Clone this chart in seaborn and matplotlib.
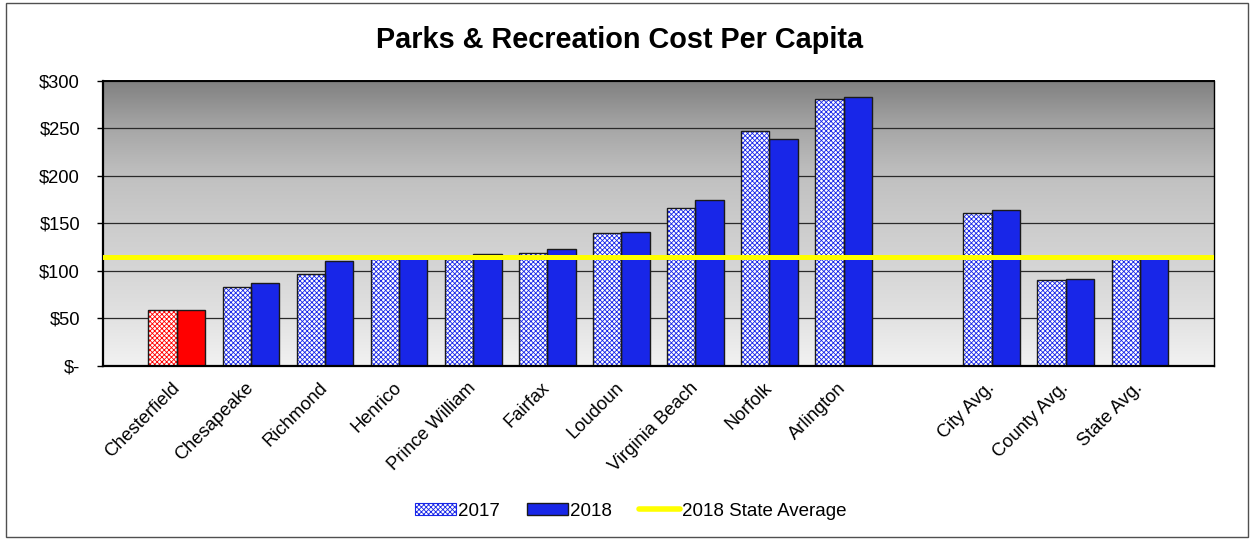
import numpy as np
import pandas as pd
import matplotlib
matplotlib.use("Agg")
import matplotlib.pyplot as plt
import seaborn as sns
from matplotlib.patches import Patch, Rectangle
from matplotlib.lines import Line2D

# ---- data -------------------------------------------------------------
jurisdictions = ["Chesterfield", "Chesapeake", "Richmond", "Henrico", "Prince William",
                 "Fairfax", "Loudoun", "Virginia Beach", "Norfolk", "Arlington",
                 "City Avg.", "County Avg.", "State Avg."]
state_average_2018 = 115
cost_2017 = [59, 83, 97, 114, 112, 119, 140, 166, 247, 281, 161, 90, 114]
cost_2018 = [59, 87, 110, 115, 118, 123, 141, 175, 239, 283, 164, 92, state_average_2018]
years = ["2017", "2018"]
highlight = "Chesterfield"
y_ticks = [0, 50, 100, 150, 200, 250, 300]
y_tick_labels = ["$-", "$50", "$100", "$150", "$200", "$250", "$300"]

# category order with an empty slot separating the averages
gap_label = ""
order = jurisdictions[:10] + [gap_label] + jurisdictions[10:]

df = pd.DataFrame({
    "Jurisdiction": jurisdictions * 2,
    "Year": [years[0]] * len(jurisdictions) + [years[1]] * len(jurisdictions),
    "Cost": cost_2017 + cost_2018,
})

# ---- style ------------------------------------------------------------
BLUE = "#1826E8"
RED = "#FF0000"
EDGE = "#1a1a1a"
CHECK = "xxxxxxx"

sns.set_theme(style="white")
plt.rcParams["font.family"] = ["Liberation Sans", "DejaVu Sans"]
plt.rcParams["hatch.linewidth"] = 0.6
plt.rcParams["text.color"] = "black"
plt.rcParams["xtick.color"] = "black"
plt.rcParams["ytick.color"] = "black"
plt.rcParams["axes.labelcolor"] = "black"

fig = plt.figure(figsize=(12.51, 5.40), dpi=100)
ax = fig.add_axes([0.0821, 0.3222, 0.8883, 0.5284])

# plot-area background: vertical grey gradient
grad_levels = np.array([0, 50, 100, 150, 200, 250, 300])
grad_gray = np.array([242, 226, 214, 204, 192, 166, 128]) / 255.0
yy = np.linspace(0, 300, 400)
g = np.interp(yy, grad_levels, grad_gray)
img = np.repeat(g[:, None], 3, axis=1)[:, None, :]
ax.imshow(img, extent=[-1, 14, 0, 300], origin="lower", aspect="auto",
          zorder=0, interpolation="bilinear")

sns.barplot(data=df, x="Jurisdiction", y="Cost", hue="Year", order=order,
            hue_order=years, palette={years[0]: BLUE, years[1]: BLUE},
            width=0.766, errorbar=None, saturation=1, legend=False, ax=ax,
            edgecolor=EDGE, linewidth=1.0, zorder=2)

# 2017 bars get a fine checked fill; the highlighted county is red
highlight_pos = order.index(highlight)
for level, container in enumerate(ax.containers):
    for bar in container:
        cx = bar.get_x() + bar.get_width() / 2
        color = RED if round(cx) == highlight_pos else BLUE
        if level == 0:
            bar.set_facecolor("white")
            bar.set_edgecolor(color)
            bar.set_hatch(CHECK)
            bar.set_linewidth(0)
            ax.add_patch(Rectangle(bar.get_xy(), bar.get_width(), bar.get_height(),
                                   fill=False, edgecolor=EDGE, linewidth=1.0,
                                   zorder=2.1))
        else:
            bar.set_facecolor(color)
            bar.set_edgecolor(EDGE)

ax.axhline(state_average_2018, color="#FFFF00", linewidth=3.6, zorder=5)

ax.set_xlim(-1, 14)
ax.set_ylim(0, 300)
ax.set_yticks(y_ticks)
ax.set_yticklabels(y_tick_labels)
ax.set_xticks(range(len(order)))
ax.set_xticklabels(order, rotation=45, ha="right", va="center",
                   rotation_mode="anchor")
ax.set_xlabel("")
ax.set_ylabel("")

ax.set_axisbelow(True)
ax.yaxis.grid(True, color="#2a2a2a", linewidth=0.9)
ax.xaxis.grid(False)

for side, lw in [("left", 1.6), ("bottom", 1.6), ("top", 1.4), ("right", 1.0)]:
    ax.spines[side].set_visible(True)
    ax.spines[side].set_color("black")
    ax.spines[side].set_linewidth(lw)

ax.tick_params(axis="y", length=4.3, width=1.0, color="black", pad=12,
               labelsize=13.2, direction="out", left=True, labelcolor="black")
ax.tick_params(axis="x", length=0, labelsize=13.2, pad=14, labelcolor="black")

fig.text(0.495, 1 - 48.3 / 540, "Parks & Recreation Cost Per Capita",
         ha="center", va="baseline", fontsize=20.8, fontweight="bold",
         color="black")

handles = [
    Patch(facecolor="white", edgecolor=BLUE, hatch=CHECK, linewidth=0.8),
    Patch(facecolor=BLUE, edgecolor=EDGE, linewidth=1.0),
    Line2D([0], [0], color="#FFFF00", linewidth=4),
]
labels = ["2017", "2018", "2018 State Average"]
fig.legend(handles, labels, loc="center", bbox_to_anchor=(0.504, 0.0537),
           ncol=3, frameon=False, fontsize=13.5, handlelength=2.2,
           handleheight=0.65, handletextpad=0.1, columnspacing=1.45,
           labelcolor="black")

fig.add_artist(Rectangle((6 / 1251, 3 / 540), (1248 - 6) / 1251, (537 - 3) / 540,
                         transform=fig.transFigure, fill=False,
                         edgecolor="#505050", linewidth=1.0))

fig.savefig("out.png", dpi=100)
